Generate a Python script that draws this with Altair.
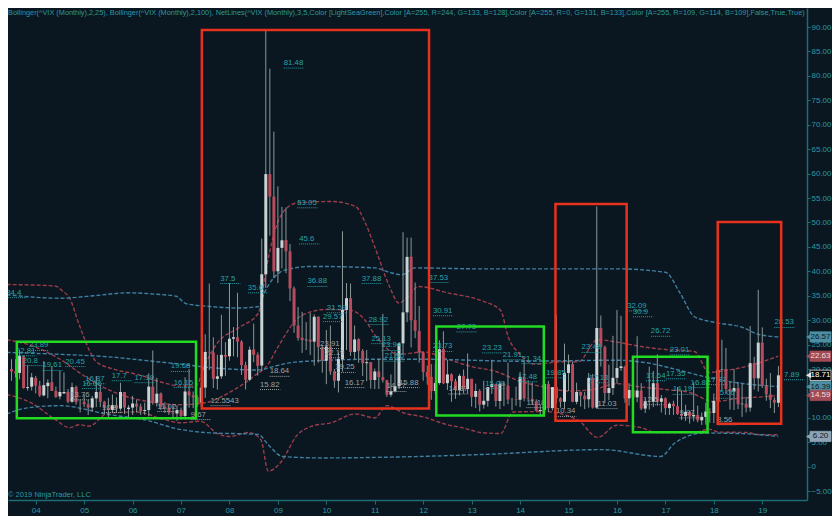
import altair as alt
import pandas as pd

# ---------------- data ----------------
first_month = "2003-07"
last_month = "2019-05"

opens = [
    20.0, 19.5, 19.2, 22.6, 16.1, 16.4,
    18.2, 16.6, 14.6, 16.5, 17.3, 15.5, 14.4, 15.0, 15.3, 13.3, 16.3, 13.3,
    13.3, 12.8, 12.1, 14.0, 15.3, 13.3, 12.0, 11.6, 12.6, 11.9, 15.3, 11.8,
    12.1, 12.9, 12.3, 11.4, 11.6, 16.4, 13.1, 15.0, 12.3, 12.0, 11.1, 10.9,
    11.6, 10.4, 15.4, 14.6, 14.2, 13.1, 16.2, 23.5, 23.4, 18.0, 18.5, 22.9,
    22.6, 26.2, 26.5, 25.6, 20.8, 17.8, 24.0, 22.9, 20.7, 39.4, 59.9, 55.3,
    40.0, 44.8, 46.4, 44.1, 36.5, 28.9, 26.4, 25.9, 26.0, 25.6, 30.7, 24.5,
    21.7, 24.6, 19.5, 17.6, 22.0, 32.1, 34.5, 23.5, 26.1, 23.7, 21.2, 21.4,
    17.75, 19.5, 18.35, 17.7, 14.75, 15.45, 16.5, 25.25, 31.6, 43.0, 30.0, 27.8,
    23.4, 19.4, 18.4, 15.5, 17.15, 24.1, 17.1, 18.9, 17.5, 15.7, 18.6, 15.9,
    18.0, 14.3, 15.5, 12.7, 13.5, 16.3, 16.9, 13.45, 17.0, 16.6, 13.75, 13.8,
    13.7, 18.4, 14.0, 13.9, 13.4, 11.4, 11.6, 16.95, 12.0, 16.3, 14.0, 13.3,
    19.2, 21.0, 13.3, 15.3, 14.55, 13.8, 18.2, 12.1, 28.4, 24.5, 15.1, 16.1,
    18.2, 20.2, 20.5, 14.0, 15.7, 14.2, 15.6, 11.9, 13.4, 13.3, 17.1, 13.3,
    14.0, 12.0, 12.9, 12.4, 10.8, 10.4, 11.2, 10.3, 10.6, 9.5, 10.2, 11.3,
    11.0, 13.5, 19.9, 20.0, 15.9, 15.4, 16.1, 12.8, 12.9, 12.1, 21.2, 18.1,
    25.4, 16.6, 14.8, 13.7, 13.1,
]
highs = [
    22.0, 22.0, 23.89, 22.8, 20.8, 19.2,
    18.6, 17.6, 21.6, 17.9, 20.6, 16.4, 19.6, 19.3, 15.9, 17.2, 16.6, 13.8,
    14.8, 13.7, 14.5, 18.6, 16.6, 13.5, 14.1, 14.8, 14.2, 17.2, 15.3, 12.6,
    14.5, 13.7, 12.9, 13.1, 19.1, 23.8, 18.2, 15.2, 13.2, 12.6, 12.6, 12.6,
    12.1, 18.3, 20.0, 15.4, 14.7, 17.3, 27.1, 37.5, 26.5, 22.9, 31.1, 25.5,
    37.6, 28.6, 35.6, 25.9, 21.5, 24.6, 29.3, 23.4, 46.7, 89.5, 81.48, 68.6,
    57.4, 53.2, 53.05, 45.6, 36.9, 32.7, 31.7, 29.6, 31.5, 31.2, 30.8, 24.9,
    28.0, 28.9, 20.0, 23.4, 48.2, 37.6, 37.5, 28.9, 26.3, 24.1, 23.9, 21.4,
    20.1, 22.1, 31.3, 17.8, 18.9, 23.6, 25.3, 48.0, 46.9, 46.9, 37.7, 32.9,
    23.5, 20.7, 21.0, 21.0, 25.9, 27.7, 21.9, 19.1, 18.0, 19.0, 19.9, 23.2,
    18.0, 17.0, 15.9, 17.6, 16.3, 21.9, 17.0, 17.6, 17.4, 21.3, 14.1, 16.4,
    19.4, 21.5, 17.7, 17.3, 13.8, 12.6, 17.0, 17.6, 16.3, 31.06, 14.2, 25.2,
    22.97, 21.5, 17.2, 15.4, 15.3, 19.2, 19.0, 53.29, 30.95, 24.8, 20.9, 26.8,
    32.09, 30.9, 20.7, 17.1, 18.0, 26.72, 17.1, 13.9, 20.5, 19.6, 23.01, 14.7,
    14.2, 13.2, 13.5, 16.3, 15.6, 12.7, 11.4, 17.3, 12.5, 11.1, 13.1, 12.0,
    15.0, 50.3, 26.0, 24.3, 17.3, 20.0, 17.3, 16.9, 14.3, 28.8, 22.5, 36.2,
    28.53, 18.0, 19.2, 14.2, 20.6,
]
lows = [
    17.6, 18.3, 17.9, 16.0, 15.6, 15.6,
    15.0, 14.3, 14.4, 14.0, 15.5, 14.1, 13.8, 14.9, 13.0, 13.1, 12.7, 11.1,
    12.2, 10.6, 11.3, 12.2, 12.2, 10.8, 10.2, 11.0, 11.2, 11.5, 10.8, 10.2,
    10.6, 11.1, 10.6, 10.6, 10.3, 12.7, 12.3, 11.6, 11.0, 10.6, 9.9, 9.4,
    9.7, 9.7, 12.1, 12.0, 12.2, 12.3, 14.1, 19.8, 16.1, 15.8, 18.0, 18.6,
    21.7, 22.6, 22.4, 18.8, 15.82, 17.5, 21.4, 18.64, 19.6, 36.6, 47.3, 38.6,
    37.6, 40.6, 39.6, 33.9, 27.4, 25.8, 23.3, 23.9, 22.9, 20.7, 21.3, 19.25,
    16.9, 18.8, 16.17, 15.2, 19.5, 23.9, 22.7, 22.0, 21.3, 18.6, 17.5, 16.0,
    15.9, 15.9, 17.2, 14.3, 14.3, 15.2, 15.88, 23.0, 29.6, 24.4, 26.3, 21.3,
    17.6, 16.8, 13.7, 15.0, 16.8, 16.9, 15.7, 13.3, 13.9, 14.6, 15.0, 15.0,
    12.3, 12.0, 11.3, 11.9, 12.3, 14.9, 12.3, 11.8, 12.4, 12.8, 11.6, 12.5,
    12.2, 13.4, 13.6, 12.8, 11.4, 10.3, 10.3, 11.2, 11.5, 13.0, 12.1, 11.8,
    15.5, 13.2, 12.8, 12.3, 11.8, 12.1, 11.9, 11.8, 20.5, 13.0, 13.6, 14.7,
    17.0, 19.6, 13.1, 12.5, 13.1, 13.2, 11.6, 11.0, 11.7, 12.2, 12.5, 11.1,
    10.6, 10.6, 10.6, 10.6, 9.56, 9.37, 8.84, 9.3, 9.1, 8.56, 8.6, 8.99,
    8.92, 12.9, 15.6, 14.9, 11.7, 11.6, 11.8, 10.2, 11.1, 11.3, 15.8, 15.4,
    16.1, 13.5, 12.0, 11.0, 12.2,
]
closes = [
    19.5, 19.1, 22.7, 16.1, 16.3, 18.3,
    16.6, 14.6, 16.7, 17.2, 15.5, 14.3, 15.3, 15.3, 13.3, 16.3, 13.2, 13.3,
    12.8, 12.1, 14.0, 15.3, 13.3, 12.0, 11.6, 12.6, 11.9, 15.3, 12.1, 12.1,
    12.95, 12.3, 11.4, 11.6, 16.4, 13.1, 14.95, 12.3, 11.98, 11.1, 10.9, 11.6,
    10.4, 15.4, 14.6, 14.2, 13.05, 16.2, 23.5, 23.4, 18.0, 18.5, 22.9, 22.5,
    26.2, 26.5, 25.6, 20.8, 17.8, 23.95, 22.9, 20.65, 39.4, 59.9, 55.3, 40.0,
    44.8, 46.35, 44.1, 36.5, 28.9, 26.35, 25.9, 26.0, 25.6, 30.7, 24.5, 21.7,
    24.6, 19.5, 17.6, 22.05, 32.1, 34.5, 23.5, 26.05, 23.7, 21.2, 21.4, 17.75,
    19.5, 18.35, 17.7, 14.75, 15.45, 16.5, 25.25, 31.6, 42.96, 29.96, 27.8, 23.4,
    19.4, 18.4, 15.5, 17.15, 24.06, 17.08, 18.9, 17.5, 15.7, 18.6, 15.9, 18.0,
    14.3, 15.5, 12.7, 13.5, 16.3, 16.9, 13.45, 17.0, 16.6, 13.75, 13.7, 13.7,
    18.4, 14.0, 13.9, 13.4, 11.4, 11.6, 16.95, 12.0, 16.3, 14.0, 13.3, 19.2,
    20.97, 13.3, 15.3, 14.55, 13.8, 18.2, 12.1, 28.4, 24.5, 15.1, 16.1, 18.2,
    20.2, 20.55, 13.95, 15.7, 14.2, 15.6, 11.9, 13.4, 13.3, 17.1, 13.3, 14.0,
    11.99, 12.9, 12.4, 10.8, 10.4, 11.2, 10.3, 10.6, 9.5, 10.2, 11.3, 11.0,
    13.5, 19.85, 19.97, 15.9, 15.4, 16.1, 12.8, 12.9, 12.1, 21.2, 18.1, 25.4,
    16.6, 14.8, 13.7, 13.1, 18.71,
]

# Bollinger(25) - red
bb25_up_t = [2003.4, 2004.4, 2004.55, 2004.7, 2004.9, 2005.1, 2005.25, 2005.6, 2006.1, 2006.6, 2007.0, 2007.3,
             2007.5, 2007.75, 2008.2, 2008.6, 2008.75, 2008.9, 2009.1, 2009.4, 2010.1, 2010.6, 2010.8, 2011.0,
             2011.3, 2011.5, 2011.7, 2011.9, 2012.5, 2013.2, 2013.6, 2013.75, 2014.0, 2014.3, 2014.9, 2015.2,
             2015.6, 2016.0, 2016.5, 2017.0, 2017.6, 2017.9, 2018.1, 2018.7, 2019.33]
bb25_up_v = [37.3, 37.0, 36.0, 34.5, 29.0, 24.0, 21.5, 20.0, 18.9, 17.3, 16.5, 16.5,
             21.0, 25.3, 28.5, 31.5, 40.0, 47.0, 52.0, 54.0, 54.3, 53.3, 50.0, 45.0,
             37.0, 33.5, 35.0, 36.9, 35.6, 34.0, 32.0, 26.7, 23.0, 21.0, 21.5, 21.5,
             26.0, 25.5, 24.6, 24.0, 23.6, 19.3, 19.5, 20.6, 22.63]
bb25_mid_t = [2003.4, 2004.0, 2004.5, 2005.0, 2005.5, 2006.0, 2006.5, 2007.0, 2007.5, 2008.0, 2008.5, 2008.8,
              2009.0, 2009.5, 2010.0, 2010.5, 2010.8, 2011.0, 2011.5, 2012.0, 2012.5, 2013.0, 2013.5, 2014.0,
              2014.5, 2015.0, 2015.5, 2016.0, 2016.5, 2017.0, 2017.5, 2018.0, 2018.5, 2019.0, 2019.33]
bb25_mid_v = [26.0, 24.5, 22.0, 18.6, 15.8, 14.0, 13.1, 12.7, 13.1, 15.2, 18.5, 21.0,
              24.5, 31.0, 32.2, 32.0, 30.0, 27.0, 23.0, 23.5, 22.0, 20.5, 19.5, 17.5,
              16.3, 15.5, 15.8, 17.0, 16.3, 15.8, 15.2, 13.3, 14.0, 14.3, 14.59]
bb25_low_t = [2003.4, 2003.9, 2004.4, 2004.7, 2004.9, 2005.1, 2005.5, 2006.1, 2006.6, 2007.0, 2007.4, 2007.75,
              2008.0, 2008.4, 2008.65, 2008.8, 2009.05, 2009.4, 2009.7, 2010.1, 2010.6, 2011.0, 2011.25, 2011.6,
              2012.0, 2012.5, 2012.8, 2013.2, 2013.6, 2013.85, 2014.5, 2015.2, 2015.6, 2016.0, 2016.5, 2016.8,
              2017.6, 2017.9, 2018.1, 2018.7, 2018.9, 2019.33]
bb25_low_v = [14.8, 13.1, 9.7, 8.0, 8.6, 8.3, 11.0, 11.2, 9.8, 9.0, 9.3, 6.8,
              6.2, 7.0, 5.5, -0.9, 0.8, 6.5, 8.3, 9.0, 10.8, 10.0, 12.5, 11.0,
              10.2, 8.6, 8.0, 7.0, 6.8, 11.2, 11.3, 9.5, 6.0, 8.5, 8.0, 7.0,
              7.0, 7.7, 7.1, 7.0, 6.6, 6.55]

# Bollinger(100) - blue
bb100_up_t = [2003.4, 2004.5, 2005.2, 2005.9, 2006.5, 2006.9, 2007.1, 2007.6, 2008.2, 2008.6, 2008.72, 2008.9,
              2009.16, 2009.7, 2011.0, 2011.3, 2011.56, 2011.83, 2013.2, 2016.0, 2017.0, 2017.3, 2017.6, 2018.05,
              2018.6, 2018.92, 2019.33]
bb100_up_v = [35.2, 34.5, 35.0, 35.6, 35.3, 34.9, 33.4, 32.8, 32.5, 32.8, 35.6, 38.5,
              40.3, 41.0, 40.7, 39.8, 39.3, 40.7, 40.5, 40.5, 39.8, 35.6, 30.7, 29.5,
              28.5, 27.1, 26.57]
bb100_mid_t = [2003.4, 2004.5, 2005.5, 2006.5, 2007.0, 2007.5, 2008.0, 2008.6, 2008.9, 2009.2, 2009.6, 2011.0,
               2012.0, 2014.0, 2016.0, 2016.6, 2017.23, 2017.78, 2018.4, 2019.33]
bb100_mid_v = [23.4, 23.0, 22.5, 21.5, 21.0, 20.4, 20.0, 19.8, 20.5, 21.2, 21.6, 22.0,
               22.0, 21.6, 21.8, 21.3, 19.9, 18.5, 17.3, 16.39]
bb100_low_t = [2003.4, 2003.8, 2004.5, 2005.5, 2006.3, 2006.9, 2007.5, 2008.6, 2008.8, 2009.1, 2009.9, 2011.5,
               2013.2, 2015.7, 2016.9, 2017.2, 2017.8, 2018.5, 2019.33]
bb100_low_v = [10.8, 12.0, 12.5, 10.7, 9.5, 7.8, 7.0, 6.6, 4.5, 2.1, 1.8, 2.0,
               2.5, 3.5, 2.1, 4.9, 6.9, 6.8, 6.2]

# NetLines labels: text, start (year), level, kind
net_text = ["34.4", "23.89", "22.81", "20.8", "19.61", "20.45", "16.87", "16.06", "17.7", "17.19", "19.68", "16.15",
            "13.76", "10.8", "11.02", "9.67",
            "81.48", "53.05", "45.6", "37.5", "35.6", "36.88", "37.88", "31.59", "29.57", "28.92", "25.13", "23.94",
            "21.96", "23.91", "22.19", "19.25", "18.64", "15.82", "16.17", "12.5543", "15.88", "14.27",
            "37.53", "30.91", "27.73", "23.73", "23.23", "21.91", "21.34", "17.48", "15.08", "14.87", "19.85",
            "23.48", "17.13", "10.34", "11.18", "11.03",
            "32.09", "30.9", "26.72", "23.01", "17.64", "17.35", "14.19", "16.88", "17.37", "15.06", "12.5", "9.97",
            "8.56", "28.53", "7.89"]
net_start = [2003.39, 2003.86, 2003.59, 2003.73, 2004.14, 2004.61, 2005.02, 2004.96, 2005.57, 2006.04, 2006.79, 2006.85,
             2004.71, 2005.37, 2006.51, 2007.20,
             2009.12, 2009.40, 2009.44, 2007.81, 2008.38, 2009.61, 2010.73, 2010.01, 2009.93, 2010.87, 2010.93, 2011.14,
             2011.20, 2009.87, 2009.97, 2010.18, 2008.83, 2008.63, 2010.38, 2007.61, 2011.50, 2011.24,
             2012.11, 2012.20, 2012.69, 2012.20, 2013.22, 2013.64, 2014.03, 2013.95, 2013.28, 2012.52, 2014.54,
             2015.27, 2015.42, 2014.74, 2014.13, 2015.60,
             2016.21, 2016.33, 2016.70, 2017.09, 2016.60, 2017.01, 2017.15, 2017.52, 2017.86, 2018.03, 2016.54, 2017.29,
             2018.07, 2019.25, 2019.45]
net_level = [34.6, 23.8, 22.7, 20.7, 19.7, 20.5, 17.0, 16.0, 17.6, 17.2, 19.5, 16.2,
             13.7, 11.1, 11.3, 9.65,
             81.6, 53.0, 45.6, 37.5, 35.6, 36.9, 37.5, 31.5, 29.7, 29.1, 25.2, 23.8,
             21.6, 24.2, 22.3, 19.3, 18.5, 15.8, 16.2, 12.5, 16.2, 15.4,
             37.7, 30.9, 27.6, 23.6, 23.3, 21.9, 21.1, 17.4, 16.0, 14.9, 18.2,
             23.4, 17.2, 10.3, 12.1, 11.9,
             31.9, 30.7, 26.7, 22.9, 17.6, 18.0, 14.8, 16.2, 16.8, 14.0, 12.7, 10.0,
             8.6, 28.5, 17.8]
net_kind = ["t"] * 12 + ["g"] * 4 + \
           ["t"] * 13 + ["g"] * 9 + \
           ["t"] * 9 + ["g"] + ["t"] * 3 + ["g"] * 3 + \
           ["t"] * 10 + ["g"] * 3 + ["t"] * 2

# highlighted zones: start, end (year), low, high, kind
zone_start = [2007.43, 2014.73, 2018.08, 2003.61, 2012.27, 2016.33]
zone_end = [2012.12, 2016.20, 2019.39, 2007.31, 2014.49, 2017.87]
zone_low = [11.9, 9.4, 8.8, 9.9, 10.5, 7.06]
zone_high = [89.4, 53.8, 50.1, 25.6, 28.7, 22.5]
zone_kind = ["red", "red", "red", "green", "green", "green"]

# price tags on the right axis
tag_values = [26.57, 22.63, 18.71, 16.39, 14.59, 6.20]
tag_kind = ["blue", "red", "last", "blue", "red", "slate"]

title_text = ("Bollinger(^VIX (Monthly),2,25), Bollinger(^VIX (Monthly),2,100), NetLines(^VIX (Monthly),3,5,"
              "Color [LightSeaGreen],Color [A=255, R=244, G=133, B=128],Color [A=255, R=0, G=131, B=133],"
              "Color [A=255, R=109, G=114, B=109],False,True,True)")
credit_text = "\u00a9 2019 NinjaTrader, LLC"
year_ticks = list(range(2004, 2020))
price_ticks = list(range(-5, 95, 5))

# ---------------- styling ----------------
BG = "#0a1620"
AXIS = "#1d6e74"
TEAL_TXT = "#2a9aa0"
FONT = "Liberation Sans"
W, H = 799, 492
PAD_R = 25

months = pd.period_range(first_month, last_month, freq="M")
candles = pd.DataFrame({
    "t": [p.year + (p.month - 1) / 12 for p in months],
    "o": opens, "h": highs, "l": lows, "c": closes,
})
candles["col"] = ["#c9d3d3" if c >= o else "#b84c5c" for o, c in zip(opens, closes)]

band_specs = [
    ("bb25_up", bb25_up_t, bb25_up_v, "#9a3d4a"),
    ("bb25_mid", bb25_mid_t, bb25_mid_v, "#9a3d4a"),
    ("bb25_low", bb25_low_t, bb25_low_v, "#9a3d4a"),
    ("bb100_up", bb100_up_t, bb100_up_v, "#3f7fa0"),
    ("bb100_mid", bb100_mid_t, bb100_mid_v, "#3f7fa0"),
    ("bb100_low", bb100_low_t, bb100_low_v, "#3f7fa0"),
]
bands = pd.concat([
    pd.DataFrame({"t": ts, "v": vs, "series": name, "col": col})
    for name, ts, vs, col in band_specs
])

kind_col = {"t": "#27a3a8", "g": "#9aa3a3"}
net = pd.DataFrame({"text": net_text, "t": net_start, "v": net_level})
net["t2"] = net["t"] + 0.42
net["col"] = [kind_col[k] for k in net_kind]

zone_col = {"red": "#e8321e", "green": "#22dc22"}
zones = pd.DataFrame({"x1": zone_start, "x2": zone_end, "y1": zone_low, "y2": zone_high})
zones["col"] = [zone_col[k] for k in zone_kind]

tag_fill = {"blue": "#4d8ea2", "red": "#a14a55", "last": "#000000", "slate": "#8ea3b3"}
tag_stroke = {"blue": "#4d8ea2", "red": "#a14a55", "last": "#e6e6e6", "slate": "#8ea3b3"}
tag_txt = {"blue": "#0b1a22", "red": "#f2dede", "last": "#ffffff", "slate": "#0b1a22"}
tags = pd.DataFrame({"v": tag_values})
tags["lo"] = tags["v"] - 1.05
tags["hi"] = tags["v"] + 1.05
tags["label"] = [f"{v:.2f}" for v in tag_values]
tags["fill"] = [tag_fill[k] for k in tag_kind]
tags["stroke"] = [tag_stroke[k] for k in tag_kind]
tags["tcol"] = [tag_txt[k] for k in tag_kind]

xs = alt.Scale(domain=[2003.531, 2019.82], nice=False, zero=False)
ys = alt.Scale(domain=[-6.81, 93.9], nice=False, zero=False)

x_axis = alt.Axis(values=year_ticks, labelExpr="slice(toString(datum.value), 2)", title=None, grid=False,
                  domainColor=AXIS, domainWidth=1.5, tickColor=AXIS, tickSize=4, labelColor=TEAL_TXT,
                  labelFont=FONT, labelFontSize=8, labelPadding=2)
y_axis = alt.Axis(orient="right", values=price_ticks,
                  labelExpr="datum.value == 0 ? '0' : format(datum.value, '.2f')", title=None, grid=False,
                  domainColor=AXIS, domainWidth=1.5, tickColor=AXIS, tickSize=3, labelColor=TEAL_TXT,
                  labelFont=FONT, labelFontSize=8, labelPadding=1)


def X(field):
    return alt.X(field, type="quantitative", scale=xs, axis=x_axis)


def Y(field):
    return alt.Y(field, type="quantitative", scale=ys, axis=y_axis)


band_layer = alt.Chart(bands).mark_line(strokeDash=[4, 2], strokeWidth=1.4, interpolate="monotone", clip=True).encode(
    x=X("t"), y=Y("v"),
    color=alt.Color("col:N", scale=None),
    detail="series:N",
)

wick = alt.Chart(candles).mark_rule(strokeWidth=1, color="#8a9898", clip=True).encode(
    x=X("t"), y=Y("l"), y2="h:Q",
)
body = alt.Chart(candles).mark_bar(size=3, orient="vertical", clip=True).encode(
    x=X("t"), y=Y("o"), y2="c:Q",
    color=alt.Color("col:N", scale=None),
)

net_rule = alt.Chart(net).mark_rule(strokeDash=[1, 1], strokeWidth=1, clip=True).encode(
    x=X("t"), x2="t2:Q", y=Y("v"),
    color=alt.Color("col:N", scale=None),
)
net_txt = alt.Chart(net).mark_text(align="left", baseline="bottom", dy=-1, fontSize=7.8, font=FONT, clip=True).encode(
    x=X("t"), y=Y("v"),
    text="text:N",
    color=alt.Color("col:N", scale=None),
)

zone_layer = alt.Chart(zones).mark_rect(fillOpacity=0, strokeWidth=2.5, clip=True).encode(
    x=X("x1"), x2="x2:Q", y=Y("y1"), y2="y2:Q",
    stroke=alt.Stroke("col:N", scale=None),
)

tag_box = alt.Chart(tags).mark_rect(strokeWidth=0.8).encode(
    x=alt.value(W + 3), x2=alt.value(W + PAD_R - 1),
    y=Y("lo"), y2="hi:Q",
    fill=alt.Fill("fill:N", scale=None),
    stroke=alt.Stroke("stroke:N", scale=None),
)
tag_tip = alt.Chart(tags).mark_point(shape="triangle-left", filled=True, size=36, opacity=1).encode(
    x=alt.value(W + 1.5),
    y=Y("v"),
    color=alt.Color("stroke:N", scale=None),
)
tag_txt_layer = alt.Chart(tags).mark_text(fontSize=8, font=FONT, align="center", baseline="middle").encode(
    x=alt.value(W + 13.5),
    y=Y("v"),
    text="label:N",
    color=alt.Color("tcol:N", scale=None),
)

title_layer = alt.Chart(pd.DataFrame({"s": [title_text]})).mark_text(
    align="left", baseline="middle", fontSize=7.35, font=FONT, color=TEAL_TXT
).encode(x=alt.value(0), y=alt.value(5), text="s:N")
credit_layer = alt.Chart(pd.DataFrame({"s": [credit_text]})).mark_text(
    align="left", baseline="middle", fontSize=7.5, font=FONT, color=TEAL_TXT
).encode(x=alt.value(0), y=alt.value(487), text="s:N")

chart = alt.layer(
    band_layer, wick, body, net_rule, net_txt, zone_layer,
    tag_box, tag_tip, tag_txt_layer, title_layer, credit_layer,
).properties(
    width=W, height=H,
    autosize=alt.AutoSizeParams(type="none"),
    padding={"left": 0, "top": 0, "right": PAD_R, "bottom": 16},
    background=BG,
).configure_view(stroke=None)

chart.save("out.html", embed_options={"renderer": "svg", "actions": False})
